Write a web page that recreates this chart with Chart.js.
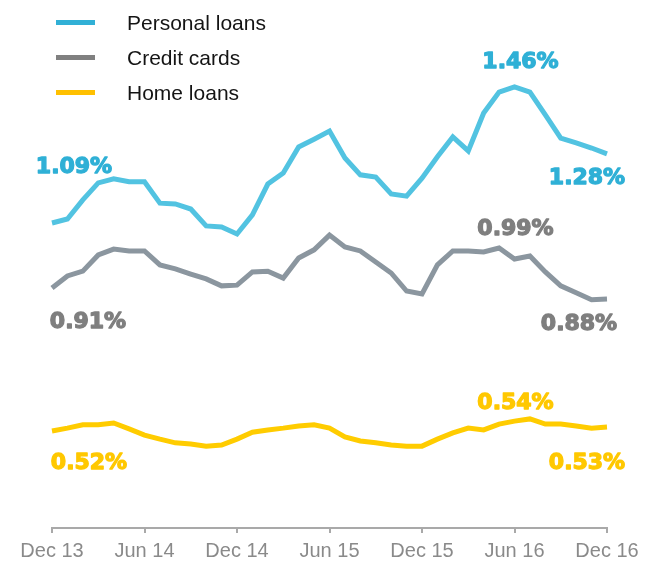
<!DOCTYPE html>
<html>
<head>
<meta charset="utf-8">
<script src="https://cdn.jsdelivr.net/npm/chart.js@4/dist/chart.umd.min.js"></script>
<style>
  html, body { margin: 0; padding: 0; background: #ffffff; }
  #wrap { position: relative; width: 652px; height: 562px; }
</style>
</head>
<body>
<div id="wrap"><canvas id="c" width="652" height="562"></canvas></div>
<script>
// ---- Data (values in %) ----
const months = [
  "Dec 13","Jan 14","Feb 14","Mar 14","Apr 14","May 14","Jun 14","Jul 14","Aug 14","Sep 14","Oct 14","Nov 14",
  "Dec 14","Jan 15","Feb 15","Mar 15","Apr 15","May 15","Jun 15","Jul 15","Aug 15","Sep 15","Oct 15","Nov 15",
  "Dec 15","Jan 16","Feb 16","Mar 16","Apr 16","May 16","Jun 16","Jul 16","Aug 16","Sep 16","Oct 16","Nov 16",
  "Dec 16"
];
const tickLabels = ["Dec 13","Jun 14","Dec 14","Jun 15","Dec 15","Jun 16","Dec 16"];

const personalLoans = [
  1.090,1.101,1.153,1.199,1.210,1.202,1.202,1.144,1.142,1.128,1.082,1.079,
  1.060,1.112,1.196,1.226,1.297,1.318,1.340,1.267,1.221,1.215,1.169,1.163,
  1.212,1.270,1.324,1.286,1.389,1.446,1.460,1.446,1.384,1.321,1.308,1.294,
  1.278
];
const creditCards = [
  0.913,0.946,0.959,1.003,1.019,1.014,1.014,0.976,0.965,0.951,0.938,0.919,
  0.921,0.957,0.959,0.940,0.995,1.017,1.057,1.025,1.014,0.984,0.954,0.905,
  0.897,0.976,1.014,1.014,1.011,1.022,0.992,1.000,0.957,0.919,0.900,0.881,
  0.883
];
const homeLoans = [
  0.524,0.532,0.541,0.541,0.546,0.530,0.513,0.502,0.492,0.489,0.483,0.486,
  0.502,0.521,0.527,0.532,0.538,0.541,0.532,0.508,0.497,0.492,0.486,0.483,
  0.483,0.502,0.519,0.532,0.527,0.543,0.551,0.557,0.543,0.543,0.538,0.532,
  0.535
];
const seriesNames = ["Personal loans","Credit cards","Home loans"];

// value call-outs: [series index, point index, text]
const calloutTexts = [
  [0, 0, "1.09%"], [0, 30, "1.46%"], [0, 36, "1.28%"],
  [1, 0, "0.91%"], [1, 30, "0.99%"], [1, 36, "0.88%"],
  [2, 0, "0.52%"], [2, 30, "0.54%"], [2, 36, "0.53%"]
];

// ---- Styles / positions ----
const lineColors   = ["#52c3e1", "#8b969f", "#ffcc00"];
const legendColors = ["#31b0d6", "#808080", "#ffc000"];
const labelColors  = ["#2fb0d6", "#7f7f7f", "#ffc800"];
const calloutOffsets = [
  [22, -57], [6, -26], [-20, 23],
  [36, 33], [1, -31], [-28, 24],
  [37, 31], [1, -19], [-20, 35]
];

const overlayPlugin = {
  id: 'overlay',
  afterDatasetsDraw(chart) {
    const ctx = chart.ctx;
    const xs = chart.scales.x, ys = chart.scales.y;
    ctx.save();
    // legend
    const legendY = [22.5, 57.5, 92.5];
    seriesNames.forEach((name, i) => {
      ctx.fillStyle = legendColors[i];
      ctx.fillRect(56, legendY[i] - 2.5, 39, 5);
      ctx.fillStyle = "#141414";
      ctx.font = "21px 'Liberation Sans', Arial, sans-serif";
      ctx.textAlign = "left";
      ctx.textBaseline = "middle";
      ctx.fillText(name, 127, legendY[i] + 1.5);
    });
    // call-outs
    ctx.font = "bold 22px 'DejaVu Sans', sans-serif";
    ctx.textAlign = "center";
    ctx.textBaseline = "middle";
    ctx.lineJoin = "round";
    ctx.lineWidth = 1.3;
    calloutTexts.forEach((c, k) => {
      const [s, idx, txt] = c;
      const ds = chart.data.datasets[s].data;
      const px = xs.getPixelForValue(idx);
      const py = ys.getPixelForValue(ds[idx]);
      const tx = px + calloutOffsets[k][0], ty = py + calloutOffsets[k][1] + 1;
      ctx.fillStyle = labelColors[s];
      ctx.strokeStyle = labelColors[s];
      ctx.fillText(txt, tx, ty);
      ctx.strokeText(txt, tx, ty);
    });
    ctx.restore();
  }
};

const seriesData = [personalLoans, creditCards, homeLoans];

new Chart(document.getElementById('c'), {
  type: 'line',
  data: {
    labels: months,
    datasets: seriesData.map((d, i) => ({
      label: seriesNames[i],
      data: d,
      borderColor: lineColors[i],
      backgroundColor: lineColors[i],
      borderWidth: 5,
      pointRadius: 0,
      tension: 0,
      fill: false,
      borderJoinStyle: 'miter'
    }))
  },
  options: {
    responsive: false,
    animation: false,
    devicePixelRatio: 1,
    layout: { padding: { left: 52, right: 45, top: 60, bottom: 0 } },
    plugins: { legend: { display: false }, tooltip: { enabled: false } },
    scales: {
      x: {
        type: 'category',
        offset: false,
        border: { display: true, color: '#a9a9a9', width: 2 },
        grid: {
          drawOnChartArea: false,
          drawTicks: true,
          tickLength: 5,
          lineWidth: 2,
          color: (ctx) => (ctx.index % 6 === 0 ? '#a9a9a9' : 'rgba(0,0,0,0)')
        },
        ticks: {
          autoSkip: false,
          maxRotation: 0,
          padding: 6,
          color: '#8a8a8a',
          font: { family: "'Liberation Sans', Arial, sans-serif", size: 20 },
          callback: function(v, i) {
            const lbl = months[i];
            return tickLabels.includes(lbl) && i % 6 === 0 ? lbl : '';
          }
        },
        afterFit(scale) { scale.height = 34; }
      },
      y: {
        display: false,
        min: 0.2603,
        max: 1.5334
      }
    }
  },
  plugins: [overlayPlugin]
});
</script>
</body>
</html>
